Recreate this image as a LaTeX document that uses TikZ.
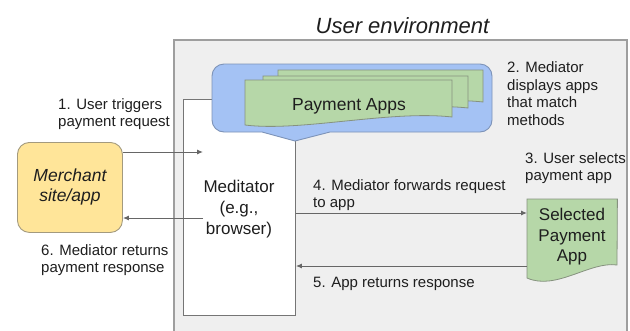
\documentclass[tikz,border=0pt]{standalone}
\usepackage{fontspec}
\setmainfont{Liberation Sans}
\usetikzlibrary{arrows.meta}

\definecolor{envfill}{HTML}{EFEFEF}
\definecolor{envline}{HTML}{9E9E9E}
\definecolor{bluefill}{HTML}{A4C2F4}
\definecolor{blueline}{HTML}{7D93B8}
\definecolor{greenfill}{HTML}{B6D7A8}
\definecolor{greenline}{HTML}{86927F}
\definecolor{yellowfill}{HTML}{FFE599}
\definecolor{yellowline}{HTML}{A39A7E}
\definecolor{arrowgray}{HTML}{666666}
\definecolor{inkcol}{HTML}{1E1E1E}

\tikzset{
  envbox/.style={fill=envfill, draw=envline, line width=1.2pt},
  medbox/.style={draw=arrowgray!90, fill=white, line width=0.9pt, inner sep=0pt, anchor=north west},
  callout/.style={fill=bluefill, draw=blueline, line width=0.9pt},
  docpage/.style={fill=greenfill, draw=greenline, line width=0.8pt},
  merchbox/.style={fill=yellowfill, draw=yellowline, line width=0.9pt, rounded corners=12pt,
    inner sep=0pt, anchor=north west, align=center, text=inkcol,
    font=\fontsize{17.5}{20}\selectfont\itshape},
  boxtext/.style={inner sep=0pt, align=center, text=inkcol, font=\fontsize{17}{21}\selectfont},
  lbl/.style={inner sep=0pt, anchor=north west, align=left, text=inkcol,
    font=\fontsize{15}{17.8}\selectfont},
  conn/.style={draw=arrowgray, line width=1pt, -{Latex[length=6pt,width=5pt]}},
}

\begin{document}
\begin{tikzpicture}[x=1pt, y=-1pt]
\useasboundingbox (0,0) rectangle (630,330);

% user environment frame and its title
\draw[envbox] (174,40) rectangle (627,345);
\node[inner sep=0pt, anchor=base, text=inkcol, font=\fontsize{22}{26}\selectfont\itshape]
  (envtitle) at (402.5,33) {User environment};

% mediator (browser)
\node[medbox, minimum width=112pt, minimum height=216pt] (med) at (183,99) {};
\node[boxtext, anchor=north] (medtext) at (239,180) {Meditator\\(e.g.,\\browser)};

% blue callout with its pointer towards the mediator
\draw[callout] (212,76) arc[start angle=180, end angle=270, radius=12]
  -- (480,64) arc[start angle=270, end angle=360, radius=12]
  -- (492,120) arc[start angle=0, end angle=90, radius=12]
  -- (330,132) -- (295,141) -- (262,132) -- (224,132)
  arc[start angle=90, end angle=180, radius=12] -- cycle;

% stack of payment app pages
\draw[docpage] (278,70) -- (483,70) -- (483,102)
  .. controls (421,95) and (333,118) .. (278,111) -- cycle;
\draw[docpage] (263,76) -- (468,76) -- (468,108)
  .. controls (406,101) and (318,124) .. (263,117) -- cycle;
\draw[docpage] (245,80) -- (452,80) -- (452,117)
  .. controls (390,110) and (300,132) .. (245,125) -- cycle;
\node[inner sep=0pt, anchor=base, text=inkcol, font=\fontsize{17.5}{20}\selectfont]
  (apps) at (349,110) {Payment Apps};

% selected payment app page
\node[inner sep=0pt, minimum width=90pt, minimum height=79pt, anchor=north west] (sel) at (527,199) {};
\draw[docpage] (sel.north west) -- (sel.north east) -- (617,265)
  .. controls (590,261) and (556,291) .. (527,278) -- cycle;
\node[boxtext, anchor=north, font=\fontsize{17}{20.5}\selectfont] (seltext) at (572,208) {Selected\\Payment\\App};

% merchant
\node[merchbox, minimum width=105pt, minimum height=90pt] (merch) at (17,142) {Merchant\\site/app};

% message flow
\coordinate (in1) at (203,152);
\coordinate (out6) at (203,218);
\coordinate (row4) at (0,213);
\coordinate (row5) at (0,266);
\draw[conn] (merch.east |- in1) -- (in1);
\draw[conn] (out6) -- (merch.east |- out6);
\draw[conn] (med.east |- row4) -- (sel.west |- row4);
\draw[conn] (sel.west |- row5) -- (med.east |- row5);

% step labels
\node[lbl] (l1) at (58,98) {1. User triggers\\payment request};
\node[lbl] (l2) at (507,61.3) {2. Mediator\\displays apps\\that match\\methods};
\node[lbl] (l3) at (525,152) {3. User selects\\payment app};
\node[lbl] (l4) at (313,179) {4. Mediator forwards request\\to app};
\node[lbl] (l5) at (313,277) {5. App returns response};
\node[lbl] (l6) at (41,244) {6. Mediator returns\\payment response};
\end{tikzpicture}
\end{document}
